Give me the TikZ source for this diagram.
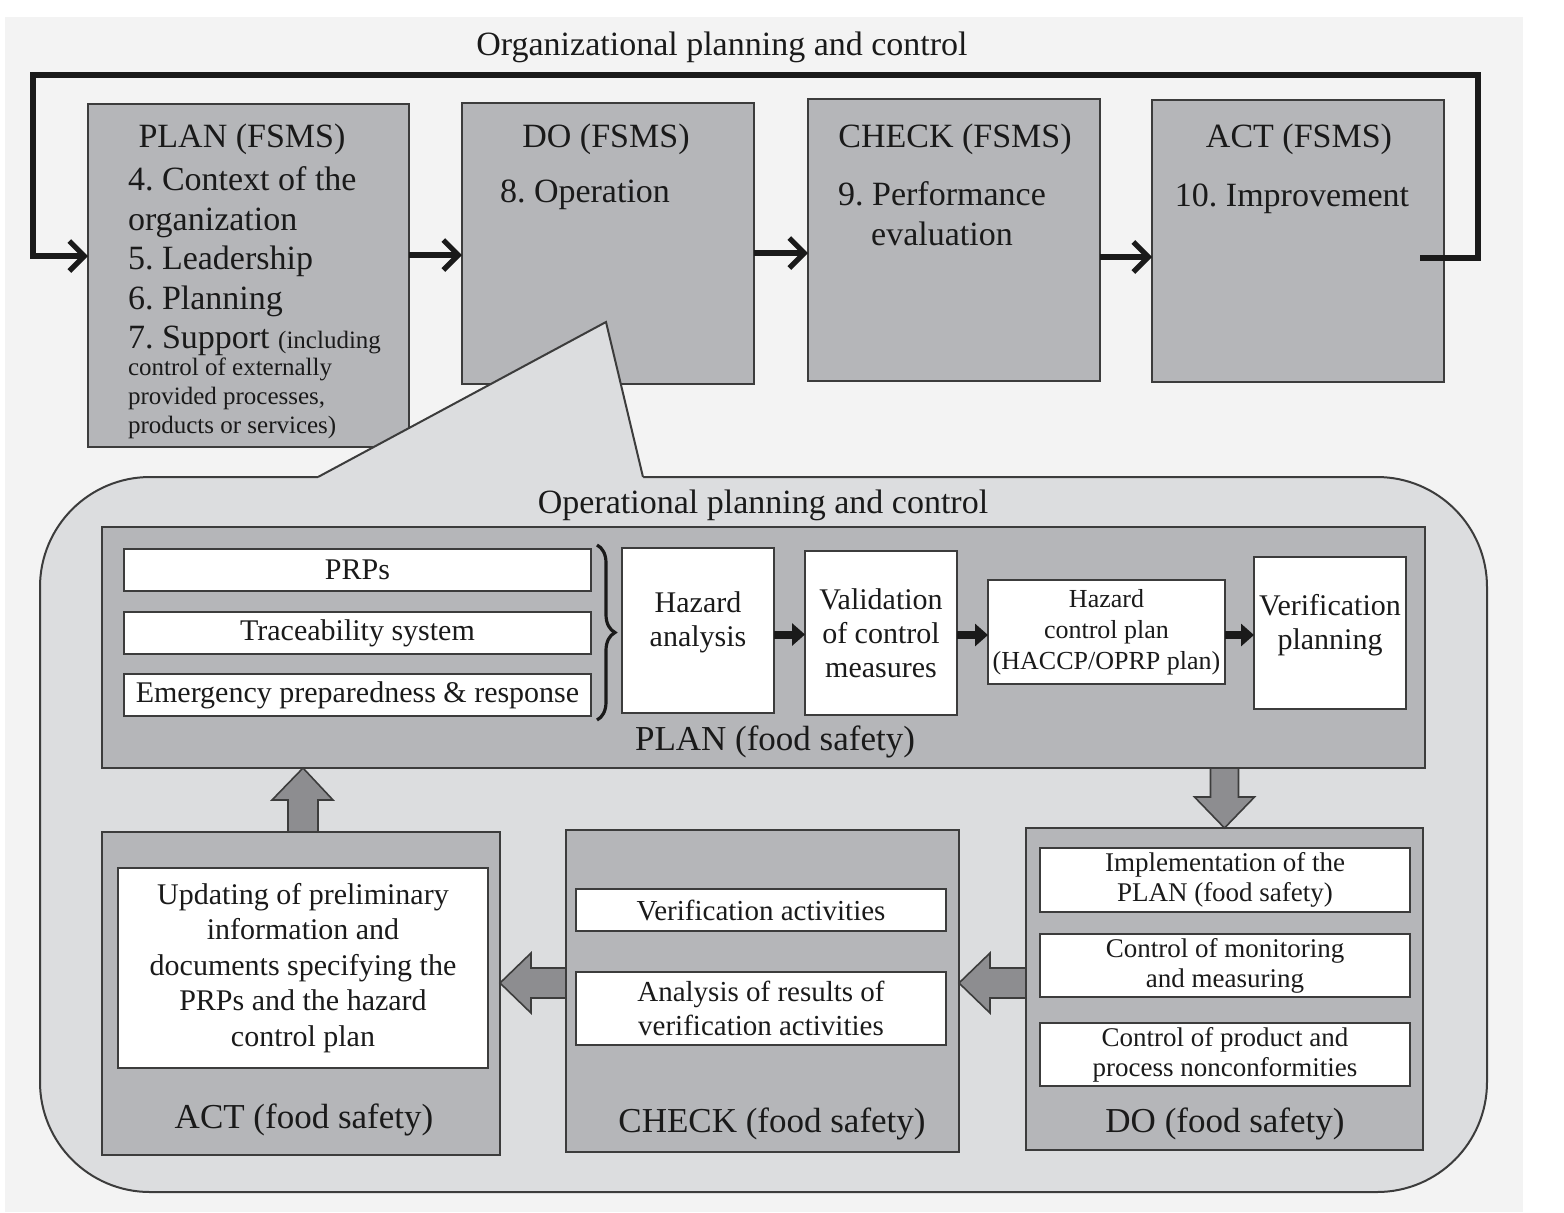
\documentclass[tikz,border=0pt]{standalone}
\usepackage{fontspec}
\setmainfont{Liberation Serif}
\usetikzlibrary{arrows.meta,decorations.pathreplacing,calc}
\definecolor{bgc}{HTML}{F3F3F3}
\definecolor{boxg}{HTML}{B5B6B9}
\definecolor{callg}{HTML}{DCDDDF}
\definecolor{arrg}{HTML}{8D8D90}
\definecolor{edge}{HTML}{3C3C3C}
\definecolor{ink}{HTML}{1A1A1A}
\newcommand\fsz[2]{\fontsize{#1}{#2}\selectfont\frenchspacing}
\newcommand\mkbox[7]{\node[#2, minimum width={(#5-#3)*0.5pt}, minimum height={(#6-#4)*0.5pt}] (#1) at ({(#3+#5)/2},{(#4+#6)/2}) {#7};}
\begin{document}
\frenchspacing
\begin{tikzpicture}[x=0.5pt,y=-0.5pt,
  graybox/.style={draw=edge,fill=boxg,line width=1pt,inner sep=0pt,outer sep=0pt},
  whitebox/.style={draw=edge,fill=white,line width=1pt,inner sep=0pt,outer sep=0pt,align=center,text=ink},
  txt/.style={inner sep=0pt,outer sep=0pt,text=ink},
  bigf/.style={font=\fsz{17}{20}},
  titf/.style={font=\fsz{17.5}{20}},
  toparrow/.style={draw=ink,line width=2.6pt,-{Straight Barb[length=7.5pt,width=15pt]}},
  loopline/.style={draw=ink,line width=2.6pt,line join=miter,-{Straight Barb[length=7.5pt,width=15pt]}},
  smallarrow/.style={draw=ink,line width=4pt,-{Triangle[length=6.5pt,width=11pt]}},
  barrow/.style={draw=edge,fill=arrg,line width=0.8pt,line join=miter}]
\useasboundingbox (0,0) rectangle (1564,1212);
\fill[bgc] (5,17) rectangle (1523,1212);

% ---------------- top FSMS row ----------------
\node[txt,bigf] (orgtitle) at (722,47) {Organizational planning and control};

\mkbox{planfs}{graybox}{88}{104}{409}{447}{}
\mkbox{dofs}{graybox}{462}{103}{754}{384}{}
\mkbox{checkfs}{graybox}{808}{99}{1100}{381}{}
\mkbox{actfs}{graybox}{1152}{100}{1444}{382}{}

\node[txt,bigf] (plant) at (242,139) {PLAN (FSMS)};
\node[txt,bigf] (dot) at (606,139) {DO (FSMS)};
\node[txt,bigf] (checkt) at (955,139) {CHECK (FSMS)};
\node[txt,bigf] (actt) at (1299,139) {ACT (FSMS)};

\node[txt,font=\fsz{17}{19.75},align=left,anchor=north west] (planlines) at (128,167)
  {4. Context of the\\organization\\5. Leadership\\6. Planning\\7. Support {\fsz{12.5}{14.5}(including}};
\node[txt,font=\fsz{12.5}{14.5},align=left,anchor=north west] (planlines2) at (128,358)
  {control of externally\\provided processes,\\products or services)};
\node[txt,bigf,anchor=west] (dolines) at (500,195) {8. Operation};
\node[txt,bigf,align=center] (checklines) at (942,214) {9. Performance\\evaluation};
\node[txt,bigf] (actlines) at (1292,199) {10. Improvement};

\draw[toparrow] ([yshift=10.25pt]planfs.east) -- ([yshift=10.25pt]planfs.east -| dofs.west);
\draw[toparrow] ([yshift=-4.75pt]dofs.east) -- ([yshift=-4.75pt]dofs.east -| checkfs.west);
\draw[toparrow] ([yshift=-8.5pt]checkfs.east) -- ([yshift=-8.5pt]checkfs.east -| actfs.west);
\coordinate (fb) at (1420,258);
\draw[loopline] (fb) -- (1478,258) -- (1478,75) -- (33,75) -- (33,256) -- ([yshift=9.75pt]planfs.west);

% ---------------- callout ----------------
\node[draw=edge,fill=callg,line width=1pt,rounded corners=55pt,inner sep=0pt,
  minimum width=723.5pt,minimum height=357.5pt] (callout) at (763.5,834.5) {};
\fill[callg] (318,477) -- (606,322) -- (643,477) -- (643,481) -- (318,481) -- cycle;
\draw[edge,line width=1pt,line join=miter] (318,477) -- (606,322) -- (643,477);

\node[txt,bigf] (optitle) at (763,505) {Operational planning and control};

% ---------------- PLAN (food safety) ----------------
\mkbox{foodplan}{graybox}{102}{527}{1425}{768}{}
\mkbox{prps}{whitebox,font=\fsz{15}{17}}{124}{549}{591}{591}{PRPs}
\mkbox{trace}{whitebox,font=\fsz{15}{17}}{124}{612}{591}{654}{Traceability system}
\mkbox{emerg}{whitebox,font=\fsz{15}{17}}{124}{674}{591}{716}{Emergency preparedness \& response}
\coordinate (bracetop) at (597,545);
\coordinate (bracebot) at (597,720);
\draw[ink,line width=1.6pt,decorate,decoration={brace,amplitude=9pt}] (bracetop) -- (bracebot);
\mkbox{hazard}{whitebox}{622}{548}{774}{713}{}
\node[txt,font=\fsz{15}{17},align=center] (hazardtxt) at (698,622) {Hazard\\analysis};
\mkbox{valid}{whitebox,font=\fsz{15}{17}}{805}{551}{957}{715}{Validation\\of control\\measures}
\mkbox{hcp}{whitebox,font=\fsz{13}{15.5}}{988}{580}{1225}{684}{Hazard\\control plan\\(HACCP/OPRP plan)}
\mkbox{verplan}{whitebox}{1254}{557}{1406}{709}{}
\node[txt,font=\fsz{15}{17},align=center] (verplantxt) at (1330,625) {Verification\\planning};
\node[txt,titf] (plantitle) at (775,742) {PLAN (food safety)};

\draw[smallarrow] ([yshift=-2pt]hazard.east) -- ([yshift=-2pt]hazard.east -| valid.west);
\draw[smallarrow] ([yshift=-1pt]valid.east) -- ([yshift=-1pt]valid.east -| hcp.west);
\draw[smallarrow] ([yshift=-1.5pt]hcp.east) -- ([yshift=-1.5pt]hcp.east -| verplan.west);

% ---------------- DO (food safety) ----------------
\mkbox{dofood}{graybox}{1026}{828}{1423}{1150}{}
\mkbox{impl}{whitebox,font=\fsz{13.5}{15}}{1040}{848}{1410}{912}{Implementation of the\\PLAN (food safety)}
\mkbox{monit}{whitebox,font=\fsz{13.5}{15}}{1040}{934}{1410}{997}{Control of monitoring\\and measuring}
\mkbox{nonc}{whitebox,font=\fsz{13.5}{15}}{1040}{1023}{1410}{1086}{Control of product and\\process nonconformities}
\node[txt,titf] (dotitle) at (1225,1124) {DO (food safety)};

% ---------------- CHECK (food safety) ----------------
\mkbox{checkfood}{graybox}{566}{830}{959}{1152}{}
\mkbox{veract}{whitebox,font=\fsz{14.5}{17}}{576}{889}{946}{931}{Verification activities}
\mkbox{analysis}{whitebox,font=\fsz{14.5}{17}}{576}{972}{946}{1045}{Analysis of results of\\verification activities}
\node[txt,titf] (checktitle) at (772,1124) {CHECK (food safety)};

% ---------------- ACT (food safety) ----------------
\mkbox{actfood}{graybox}{102}{832}{500}{1155}{}
\mkbox{update}{whitebox,font=\fsz{15}{17.75}}{118}{868}{488}{1068}{Updating of preliminary\\information and\\documents specifying the\\PRPs and the hazard\\control plan}
\node[txt,titf] (acttitle) at (304,1120) {ACT (food safety)};

% ---------------- block arrows ----------------
\coordinate (d0) at (foodplan.south -| dofood.north);
\draw[barrow] ($(d0)+(-14,0)$) -- ($(d0)+(-14,29)$) -- ($(d0)+(-30,29)$) -- (dofood.north)
  -- ($(d0)+(30,29)$) -- ($(d0)+(14,29)$) -- ($(d0)+(14,0)$) -- cycle;
\coordinate (l0) at ($(dofood.west)+(0,-6)$);
\coordinate (l1) at (l0 -| checkfood.east);
\draw[barrow] ($(l0)+(0,-15)$) -- ($(l0)+(-36,-15)$) -- ($(l0)+(-36,-30)$) -- (l1)
  -- ($(l0)+(-36,30)$) -- ($(l0)+(-36,15)$) -- ($(l0)+(0,15)$) -- cycle;
\coordinate (m0) at ($(checkfood.west)+(0,-8)$);
\coordinate (m1) at (m0 -| actfood.east);
\draw[barrow] ($(m0)+(0,-15)$) -- ($(m0)+(-35,-15)$) -- ($(m0)+(-35,-30)$) -- (m1)
  -- ($(m0)+(-35,30)$) -- ($(m0)+(-35,15)$) -- ($(m0)+(0,15)$) -- cycle;
\coordinate (u0) at ($(actfood.north)+(2,0)$);
\coordinate (u1) at (u0 |- foodplan.south);
\draw[barrow] ($(u0)+(-15,0)$) -- ($(u0)+(-15,-32)$) -- ($(u0)+(-31,-32)$) -- (u1)
  -- ($(u0)+(30,-32)$) -- ($(u0)+(15,-32)$) -- ($(u0)+(15,0)$) -- cycle;
\end{tikzpicture}
\end{document}
